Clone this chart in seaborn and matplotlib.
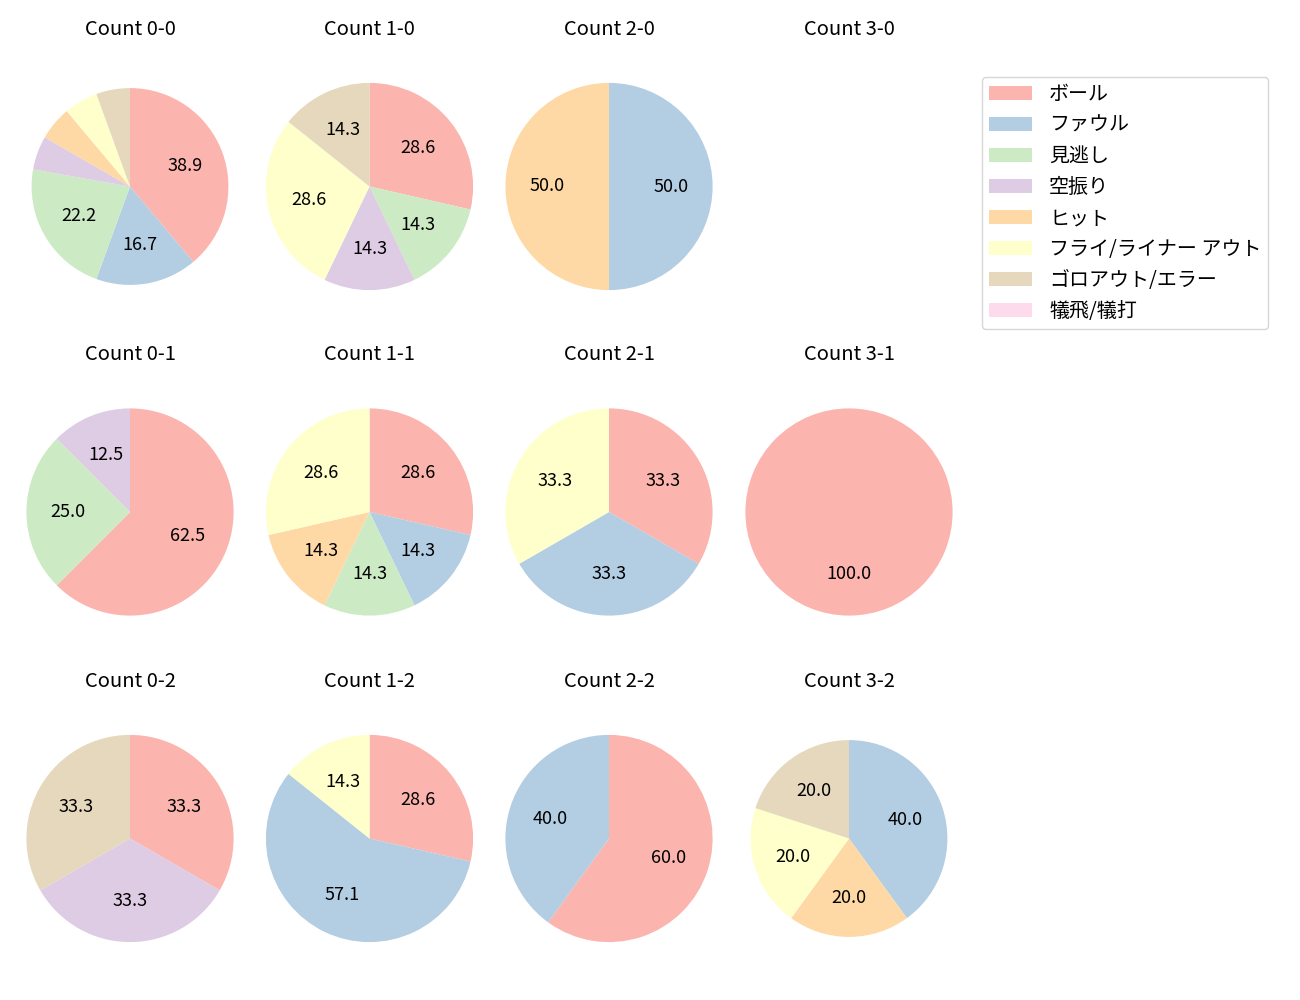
import matplotlib
matplotlib.use('Agg')
import matplotlib.pyplot as plt
import seaborn as sns
from matplotlib.patches import Patch

sns.set_theme(style='white')
plt.rcParams['font.family'] = ['Noto Sans CJK JP', 'DejaVu Sans']
plt.rcParams['text.color'] = 'black'

# result categories (legend order)
categories = ['ボール', 'ファウル', '見逃し', '空振り', 'ヒット',
              'フライ/ライナー アウト', 'ゴロアウト/エラー', '犠飛/犠打']

# number of pitches ending in each result, per ball-strike count
count_0_0 = [7, 3, 4, 1, 1, 1, 1, 0]
count_1_0 = [2, 0, 1, 1, 0, 2, 1, 0]
count_2_0 = [0, 1, 0, 0, 1, 0, 0, 0]
count_3_0 = [0, 0, 0, 0, 0, 0, 0, 0]
count_0_1 = [5, 0, 2, 1, 0, 0, 0, 0]
count_1_1 = [2, 1, 1, 0, 1, 2, 0, 0]
count_2_1 = [1, 1, 0, 0, 0, 1, 0, 0]
count_3_1 = [1, 0, 0, 0, 0, 0, 0, 0]
count_0_2 = [1, 0, 0, 1, 0, 0, 1, 0]
count_1_2 = [2, 4, 0, 0, 0, 1, 0, 0]
count_2_2 = [3, 2, 0, 0, 0, 0, 0, 0]
count_3_2 = [0, 2, 0, 0, 1, 1, 1, 0]

panels = [
    ['Count 0-0', 'Count 1-0', 'Count 2-0', 'Count 3-0'],
    ['Count 0-1', 'Count 1-1', 'Count 2-1', 'Count 3-1'],
    ['Count 0-2', 'Count 1-2', 'Count 2-2', 'Count 3-2'],
]
values = {
    'Count 0-0': count_0_0, 'Count 1-0': count_1_0, 'Count 2-0': count_2_0, 'Count 3-0': count_3_0,
    'Count 0-1': count_0_1, 'Count 1-1': count_1_1, 'Count 2-1': count_2_1, 'Count 3-1': count_3_1,
    'Count 0-2': count_0_2, 'Count 1-2': count_1_2, 'Count 2-2': count_2_2, 'Count 3-2': count_3_2,
}

colors = sns.color_palette('Pastel1', len(categories))

W, H = 1300, 1000
fig = plt.figure(figsize=(13, 10), dpi=100)

col_x = [130, 369.5, 609, 849]   # pie centres in pixels
row_y = [186.5, 512, 838.5]
side = 259                       # axes side in pixels
small = {'Count 0-0': 0.95, 'Count 3-2': 0.95}

for r, row in enumerate(panels):
    for c, name in enumerate(row):
        cx, cy = col_x[c], row_y[r]
        ax = fig.add_axes([(cx - side / 2) / W, 1 - (cy + side / 2) / H, side / W, side / H])
        vals = values[name]
        if sum(vals) > 0:
            ax.pie(vals, colors=colors, startangle=90, counterclock=False,
                   radius=small.get(name, 1.0),
                   autopct=lambda p: f'{p:.1f}' if p > 10 else '',
                   pctdistance=0.6,
                   wedgeprops={'linewidth': 0},
                   textprops={'fontsize': 13})
        ax.set_xlim(-1.25, 1.25)
        ax.set_ylim(-1.25, 1.25)
        ax.set_aspect('equal')
        ax.axis('off')
        ax.set_title(name, fontsize=14.5, pad=16)

handles = [Patch(facecolor=col, edgecolor='none') for col in colors]
fig.legend(handles, categories, loc='upper left',
           bbox_to_anchor=(982 / W, 1 - 77 / H), borderaxespad=0,
           fontsize=14.4, handlelength=2.15, handletextpad=0.85,
           borderpad=0.35, frameon=True, edgecolor='#cccccc', fancybox=True)

fig.savefig('out.png', dpi=100)
